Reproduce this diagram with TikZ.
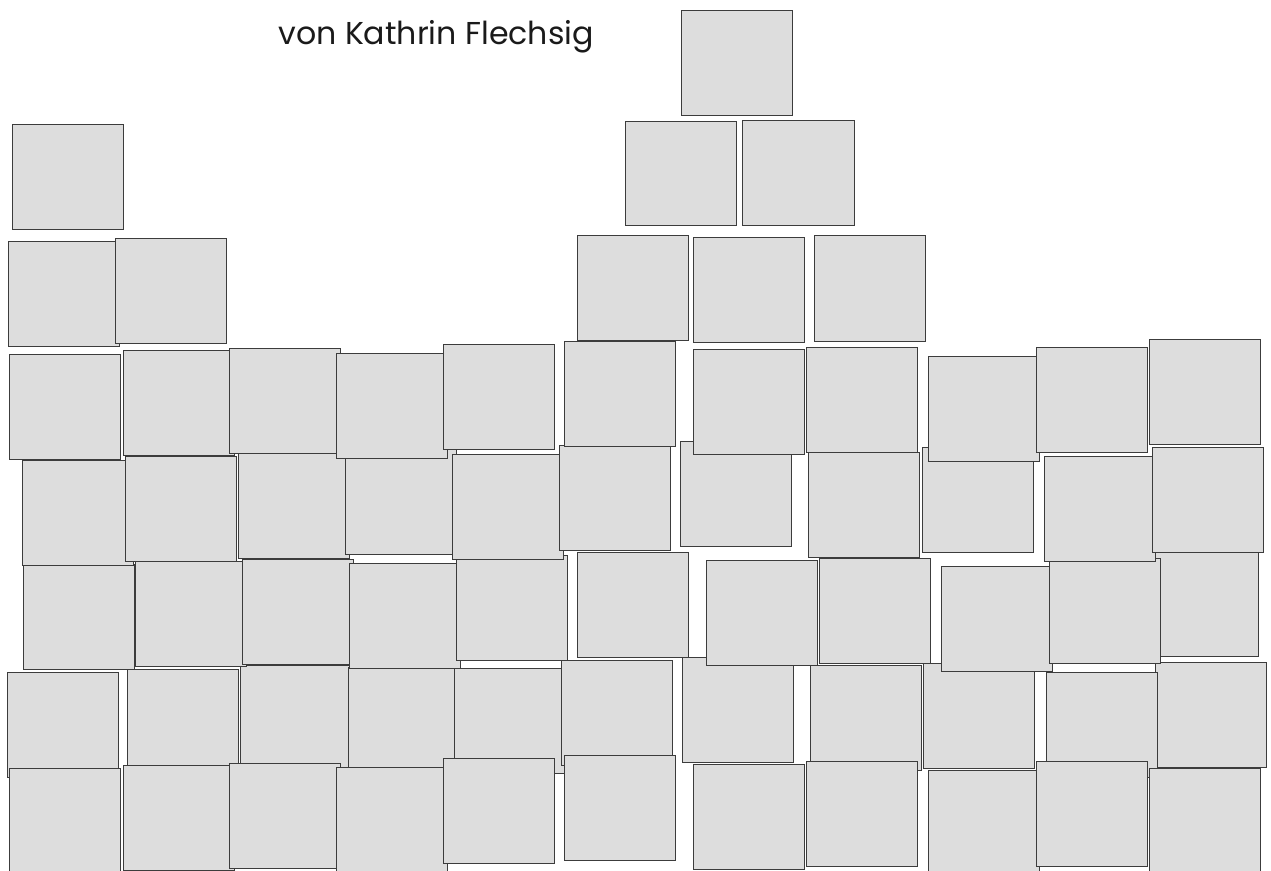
\documentclass[tikz,border=0pt]{standalone}
\usepackage{fontspec}
\newfontfamily\titlefont{Poppins}
\usetikzlibrary{positioning}
\definecolor{tileGray}{HTML}{DDDDDD}
\definecolor{tileEdge}{HTML}{3C3C3C}
\definecolor{titleInk}{HTML}{1A1A1A}

\begin{document}
\begin{tikzpicture}[
    x=0.02cm, y=-0.02cm,
    tile/.style={fill=tileGray, draw=tileEdge, line width=0.45pt},
    credit/.style={font=\titlefont\fontsize{18}{21}\selectfont, text=titleInk, inner sep=0pt, anchor=base west},
]
\useasboundingbox (0,0) rectangle (1271,870);
\clip (0,0) rectangle (1271,870);
% name line
\node[credit] (author) at (278,44) {von Kathrin Flechsig};
% top stacks
\draw[tile] (681,10)  rectangle +(111,105);
\draw[tile] (625,121) rectangle +(111,104);
\draw[tile] (742,120) rectangle +(112,105);
\draw[tile] (12,124)  rectangle +(111,105);
\draw[tile] (8,241)   rectangle +(111,105);
\draw[tile] (115,238) rectangle +(111,105);
\draw[tile] (577,235) rectangle +(111,105);
\draw[tile] (693,237) rectangle +(111,105);
\draw[tile] (814,235) rectangle +(111,106);
% wall, fourth row first (lies underneath)
\foreach \x/\y in {7/672, 127/669, 240/665, 348/667, 454/668, 561/660,
                   682/657, 810/665, 923/663, 1155/662, 1046/672}
    \draw[tile] (\x,\y) rectangle +(111,105);
% third row
\foreach \x/\y in {23/564, 135/561, 242/559, 349/563, 456/555, 577/552,
                   706/560, 819/558, 941/566, 1147/551, 1049/558}
    \draw[tile] (\x,\y) rectangle +(111,105);
% second row
\foreach \x/\y in {22/460, 125/456, 238/453, 345/449, 452/454, 559/445,
                   680/441, 808/452, 922/447, 1044/456, 1152/447}
    \draw[tile] (\x,\y) rectangle +(111,105);
% first row
\foreach \x/\y in {9/354, 123/350, 229/348, 336/353, 443/344, 564/341,
                   693/349, 806/347, 928/356, 1036/347, 1149/339}
    \draw[tile] (\x,\y) rectangle +(111,105);
% bottom row
\foreach \x/\y in {9/768, 123/765, 229/763, 336/767, 443/758, 564/755,
                   693/764, 806/761, 928/770, 1036/761, 1149/768}
    \draw[tile] (\x,\y) rectangle +(111,105);
\end{tikzpicture}
\end{document}
